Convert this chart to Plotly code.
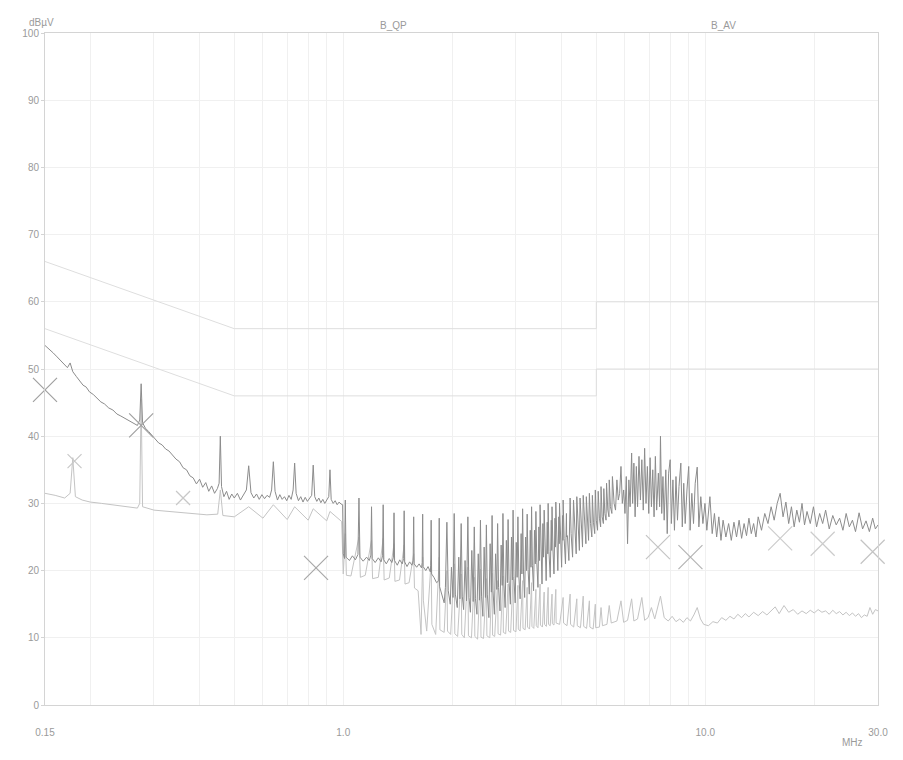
import plotly.graph_objects as go

# ---------------- data (MHz, dBµV) ----------------
qp_f = [0.150, 0.154, 0.158, 0.162, 0.166, 0.170, 0.173, 0.176, 0.179, 0.183, 0.187, 0.191, 0.195, 0.199,
        0.204, 0.209, 0.214, 0.219, 0.225, 0.231, 0.237, 0.243, 0.250, 0.257, 0.264, 0.270, 0.274, 0.2765,
        0.279, 0.284, 0.290, 0.296, 0.302, 0.309, 0.316, 0.323, 0.330, 0.337, 0.345, 0.353, 0.361, 0.369,
        0.377, 0.385, 0.393, 0.401, 0.409, 0.417, 0.425, 0.433, 0.441, 0.449, 0.454, 0.4575, 0.461, 0.468,
        0.476, 0.484, 0.492, 0.500, 0.510, 0.520, 0.530, 0.540, 0.548, 0.556, 0.566, 0.576, 0.586, 0.596,
        0.606, 0.616, 0.626, 0.634, 0.641, 0.648, 0.658, 0.668, 0.678, 0.688, 0.698, 0.708, 0.718, 0.727,
        0.734, 0.741, 0.752, 0.763, 0.774, 0.785, 0.796, 0.807, 0.818, 0.826, 0.834, 0.845, 0.856, 0.867,
        0.878, 0.889, 0.900, 0.912, 0.919, 0.926, 0.938, 0.950, 0.962, 0.974, 0.986, 0.996,
        1.000, 1.008, 1.013, 1.018, 1.040, 1.060, 1.080, 1.098, 1.105, 1.112, 1.135, 1.160, 1.180, 1.192,
        1.197, 1.202, 1.225, 1.250, 1.272, 1.284, 1.289, 1.294, 1.315, 1.340, 1.362, 1.376, 1.381, 1.386,
        1.410, 1.432, 1.455, 1.468, 1.473, 1.478, 1.500, 1.525, 1.548, 1.560, 1.565, 1.570, 1.595, 1.620,
        1.645, 1.652, 1.657, 1.662, 1.690, 1.715, 1.740, 1.744, 1.749, 1.754, 1.780, 1.810, 1.836, 1.841,
        1.846, 1.870, 1.900, 1.915, 1.933, 1.950, 1.975, 1.990, 2.010, 2.025, 2.040, 2.065, 2.085, 2.100,
        2.117, 2.132, 2.150, 2.170, 2.190, 2.209, 2.225, 2.245, 2.265, 2.285, 2.301, 2.318, 2.340, 2.360,
        2.378, 2.393, 2.410, 2.430, 2.450, 2.470, 2.485, 2.500, 2.525, 2.545, 2.565, 2.577, 2.592, 2.615,
        2.635, 2.655, 2.669, 2.685, 2.710, 2.730, 2.748, 2.761, 2.778, 2.800, 2.822, 2.840, 2.853, 2.870,
        2.895, 2.915, 2.932, 2.945, 2.962, 2.985, 3.005, 3.022, 3.037, 3.055, 3.080, 3.100, 3.115, 3.129,
        3.147, 3.170, 3.190, 3.208, 3.221, 3.240, 3.265, 3.285, 3.300, 3.313, 3.330, 3.355, 3.375, 3.392,
        3.405, 3.425, 3.450, 3.470, 3.485, 3.497, 3.515, 3.540, 3.560, 3.575, 3.589, 3.610, 3.635, 3.660,
        3.672, 3.681, 3.700, 3.730, 3.755, 3.765, 3.773, 3.795, 3.820, 3.845, 3.858, 3.865, 3.888, 3.915,
        3.940, 3.950, 3.957, 3.980, 4.010, 4.035, 4.043, 4.049, 4.075, 4.110, 4.135, 4.141, 4.160, 4.200,
        4.233, 4.260, 4.300, 4.325, 4.360, 4.400, 4.417, 4.450, 4.490, 4.509, 4.540, 4.580, 4.601, 4.640,
        4.680, 4.693, 4.730, 4.760, 4.785, 4.820, 4.860, 4.877, 4.910, 4.950, 4.969, 5.000, 5.040, 5.061,
        5.100, 5.140, 5.153, 5.190, 5.230, 5.245, 5.280, 5.320, 5.337, 5.380, 5.420, 5.429, 5.470, 5.520,
        5.540, 5.600, 5.650, 5.700, 5.750, 5.800, 5.850, 5.900, 5.950, 6.000, 6.050, 6.100, 6.150, 6.200,
        6.260, 6.300, 6.350, 6.400, 6.450, 6.500, 6.560, 6.620, 6.680, 6.740, 6.800, 6.860, 6.920, 6.980,
        7.040, 7.100, 7.160, 7.220, 7.280, 7.340, 7.420, 7.480, 7.520, 7.580, 7.640, 7.700, 7.780, 7.850,
        7.920, 8.000, 8.060, 8.140, 8.220, 8.300, 8.380, 8.460, 8.560, 8.640, 8.720, 8.800, 8.900, 9.000,
        9.080, 9.180, 9.280, 9.380, 9.500, 9.600, 9.720, 9.850, 9.980, 10.10, 10.30, 10.45, 10.60, 10.75,
        10.90, 11.05, 11.20, 11.40, 11.60, 11.80, 12.00, 12.20, 12.40, 12.60, 12.80, 13.00, 13.20, 13.40,
        13.60, 13.80, 14.00, 14.30, 14.60, 14.90, 15.20, 15.50, 15.80, 16.10, 16.40, 16.70, 17.00, 17.30,
        17.60, 17.90, 18.20, 18.50, 18.80, 19.10, 19.50, 19.90, 20.30, 20.70, 21.10, 21.50, 22.00, 22.50,
        23.00, 23.50, 24.00, 24.50, 25.00, 25.50, 26.00, 26.60, 27.20, 27.80, 28.40, 29.00, 29.50, 30.00]

qp_db = [53.5, 53.0, 52.4, 51.8, 51.2, 50.7, 50.2, 50.9, 49.6, 48.9, 48.3, 47.6, 47.3, 46.6,
         46.2, 45.6, 45.1, 44.8, 44.2, 43.9, 43.3, 43.0, 42.6, 42.2, 41.9, 41.6, 42.4, 47.8,
         42.0, 41.2, 40.7, 40.1, 39.6, 39.0, 38.7, 38.1, 37.8, 37.2, 36.6, 36.2, 35.3, 35.0,
         34.1, 33.8, 32.9, 33.6, 32.4, 33.1, 31.8, 32.6, 31.5, 32.2, 33.0, 40.0, 32.5, 31.0,
         31.8, 30.6, 31.4, 30.8, 31.5, 30.5, 31.2, 32.0, 35.6, 31.6, 30.8, 31.4, 30.6, 31.3,
         30.7, 31.2, 30.9, 32.0, 36.2, 31.8, 30.5, 31.3, 30.6, 31.0, 30.4, 31.2, 30.6, 32.0,
         36.0, 31.5, 30.4, 31.0, 30.2, 30.9, 30.3, 30.8, 31.2, 35.7, 31.0, 30.3, 30.8, 30.1,
         30.6, 30.0, 30.5, 31.0, 35.0, 30.6, 30.0, 30.4, 29.8, 30.2, 29.9, 29.8,
         22.5, 21.8, 30.5, 22.0, 21.5, 22.2, 21.6, 22.4, 30.8, 22.0, 21.4, 22.0, 21.5, 22.3,
         29.5, 21.8, 21.2, 21.9, 21.3, 22.2, 29.8, 21.6, 21.0, 21.8, 21.2, 22.0, 28.6, 21.5,
         20.8, 21.6, 21.0, 21.8, 28.9, 21.3, 20.6, 21.3, 20.8, 21.5, 28.0, 21.0, 20.5, 21.0,
         20.4, 21.2, 28.4, 20.6, 20.0, 20.6, 19.8, 20.8, 27.5, 19.5, 19.0, 18.2, 18.5, 27.8,
         17.6, 16.5, 15.2, 17.5, 27.2, 17.0, 15.0, 20.5, 16.0, 28.5, 16.5, 14.5, 22.0, 15.8,
         27.0, 16.2, 14.2, 21.5, 15.5, 28.0, 16.0, 13.8, 23.0, 15.4, 26.5, 15.8, 13.5, 22.5,
         15.6, 27.5, 16.2, 13.2, 23.5, 16.0, 26.8, 16.5, 13.0, 24.0, 16.8, 28.2, 17.0, 13.5,
         22.5, 17.2, 27.0, 17.5, 14.0, 23.8, 17.8, 28.5, 18.0, 14.5, 24.5, 18.2, 27.6, 18.5,
         15.0, 25.0, 18.6, 29.0, 18.8, 15.2, 24.2, 19.0, 28.0, 19.2, 15.8, 25.5, 19.5, 29.2,
         19.8, 16.0, 25.0, 20.0, 28.4, 20.2, 16.5, 26.0, 20.5, 29.5, 20.8, 17.0, 26.0, 21.0,
         28.8, 21.2, 17.5, 26.5, 21.5, 29.8, 21.8, 18.0, 27.0, 22.0, 29.0, 22.2, 18.5, 27.2,
         22.5, 30.0, 22.8, 19.0, 27.5, 23.0, 29.5, 23.2, 19.5, 27.8, 23.5, 30.2, 23.8, 20.0,
         28.0, 24.0, 30.0, 24.2, 20.5, 28.2, 24.5, 30.5, 24.8, 21.0, 28.5, 25.0, 25.2, 21.5,
         30.8, 25.5, 22.0, 30.5, 25.8, 22.5, 31.0, 26.0, 23.0, 30.8, 26.2, 23.5, 31.2, 26.5,
         24.0, 31.0, 26.8, 24.5, 31.5, 27.0, 25.0, 31.2, 27.2, 25.5, 32.0, 27.5, 26.0, 31.8,
         27.8, 26.5, 32.5, 28.0, 27.0, 32.2, 28.5, 27.5, 33.0, 29.0, 28.0, 33.5, 29.5, 28.5,
         34.0, 30.0, 29.0, 33.5, 30.5, 31.5, 35.5, 30.0, 32.0, 28.5, 34.0, 24.0, 33.5, 29.5,
         37.5, 30.0, 36.0, 28.0, 35.5, 29.5, 37.0, 30.5, 36.5, 29.0, 38.2, 30.0, 35.5, 28.5,
         36.8, 29.5, 35.0, 28.0, 37.0, 29.0, 34.5, 29.5, 40.0, 28.5, 34.0, 27.5, 35.0, 25.5,
         34.5, 36.5, 27.0, 33.5, 26.0, 34.0, 27.5, 32.5, 36.0, 26.5, 33.0, 27.0, 32.0, 35.5,
         26.0, 31.5, 27.0, 33.0, 35.4, 26.5, 31.0, 27.0, 30.0, 26.0, 31.0, 25.5, 28.5, 25.0,
         28.0, 24.5, 27.5, 25.0, 27.0, 24.5, 27.2, 25.0, 27.5, 24.8, 27.0, 25.2, 27.8, 25.5,
         27.0, 25.0, 28.0, 26.0, 28.5, 27.0, 29.5, 27.5, 30.0, 31.5, 28.0, 30.2, 27.0, 29.5,
         26.5, 29.0, 27.2, 30.0, 26.8, 28.8, 27.0, 29.5, 26.5, 28.5, 27.0, 29.0, 26.2, 28.2,
         26.8, 27.8, 26.0, 28.5, 26.5, 27.5, 25.8, 28.6, 26.2, 27.4, 25.8, 27.8, 26.2, 26.8]

av_f = [0.150, 0.160, 0.170, 0.176, 0.179, 0.182, 0.190, 0.200, 0.215, 0.230, 0.250, 0.270, 0.274, 0.2765,
        0.279, 0.300, 0.330, 0.360, 0.390, 0.420, 0.450, 0.4575, 0.465, 0.500, 0.548, 0.600, 0.641, 0.700,
        0.734, 0.800, 0.826, 0.900, 0.919, 0.990,
        1.000, 1.013, 1.020, 1.050, 1.105, 1.115, 1.150, 1.197, 1.205, 1.250, 1.289, 1.297, 1.340, 1.381,
        1.389, 1.430, 1.473, 1.481, 1.520, 1.565, 1.573, 1.610, 1.640, 1.657, 1.665, 1.700, 1.749, 1.757,
        1.800, 1.841, 1.849, 1.900, 1.933, 1.941, 1.980, 2.025, 2.033, 2.070, 2.117, 2.125, 2.160, 2.209,
        2.217, 2.260, 2.301, 2.309, 2.350, 2.393, 2.401, 2.440, 2.485, 2.493, 2.540, 2.577, 2.585, 2.620,
        2.669, 2.677, 2.720, 2.761, 2.769, 2.810, 2.853, 2.861, 2.900, 2.945, 2.953, 3.000, 3.037, 3.045,
        3.080, 3.129, 3.137, 3.180, 3.221, 3.229, 3.270, 3.313, 3.321, 3.360, 3.405, 3.413, 3.450, 3.497,
        3.505, 3.550, 3.589, 3.597, 3.640, 3.681, 3.689, 3.730, 3.773, 3.781, 3.820, 3.865, 3.873, 3.960,
        4.049, 4.060, 4.150, 4.233, 4.245, 4.330, 4.417, 4.430, 4.520, 4.601, 4.615, 4.700, 4.785, 4.800,
        4.900, 4.969, 4.980, 5.100, 5.153, 5.200, 5.350, 5.429, 5.500, 5.700, 5.850, 5.950, 6.100, 6.260,
        6.350, 6.500, 6.680, 6.800, 6.950, 7.100, 7.250, 7.520, 7.700, 7.900, 8.100, 8.300, 8.500, 8.700,
        8.900, 9.100, 9.300, 9.500, 9.700, 9.900, 10.20, 10.50, 10.80, 11.10, 11.40, 11.70, 12.00, 12.30,
        12.60, 12.90, 13.20, 13.60, 14.00, 14.40, 14.80, 15.20, 15.60, 16.00, 16.50, 17.00, 17.50, 18.00,
        18.50, 19.00, 19.50, 20.00, 20.50, 21.00, 21.50, 22.00, 22.50, 23.00, 23.50, 24.00, 24.50, 25.00,
        25.50, 26.00, 26.50, 27.00, 27.50, 28.00, 28.50, 29.00, 29.50, 30.00]

av_db = [31.5, 31.2, 30.8, 31.5, 36.8, 31.0, 30.5, 30.2, 30.0, 29.8, 29.5, 29.3, 30.0, 45.5,
         29.5, 29.0, 28.8, 28.6, 28.5, 28.3, 28.4, 32.0, 28.2, 28.0, 29.5, 27.8, 29.8, 27.6,
         29.5, 27.5, 29.2, 27.4, 28.8, 27.3,
         19.5, 25.5, 19.3, 19.2, 25.0, 19.0, 19.3, 24.5, 18.8, 19.0, 24.8, 18.6, 18.9, 24.0,
         18.4, 18.6, 23.8, 18.0, 18.2, 22.5, 17.4, 17.0, 10.5, 22.0, 15.5, 11.0, 21.5, 12.0,
         10.5, 22.0, 11.2, 10.8, 20.0, 11.0, 10.5, 21.0, 10.6, 10.2, 19.5, 10.5, 10.0, 20.5,
         10.3, 10.0, 19.0, 10.2, 9.8, 20.2, 10.1, 9.9, 18.8, 10.3, 10.0, 19.6, 10.4, 10.2,
         18.5, 10.6, 10.4, 19.2, 10.8, 10.6, 18.0, 11.0, 10.8, 19.0, 11.1, 10.9, 17.8, 11.3,
         11.0, 18.5, 11.4, 11.2, 17.5, 11.6, 11.3, 18.2, 11.7, 11.4, 17.2, 11.8, 11.5, 18.0,
         11.9, 11.6, 16.8, 12.0, 11.7, 17.5, 12.0, 11.8, 16.5, 12.1, 11.9, 17.2, 12.2, 12.0,
         16.0, 12.2, 11.8, 16.5, 12.0, 11.6, 15.8, 11.8, 11.5, 16.2, 11.7, 11.4, 15.5, 11.6,
         11.3, 15.0, 11.5, 11.6, 14.5, 11.8, 12.0, 14.8, 12.2, 12.5, 15.5, 12.3, 12.6, 15.8,
         12.5, 12.8, 16.0, 12.6, 13.0, 14.5, 12.8, 16.2, 13.0, 12.5, 13.2, 12.4, 12.8, 12.3,
         13.0, 12.5, 13.4, 14.5, 12.8, 12.0, 11.8, 12.4, 12.2, 13.0, 12.6, 13.2, 12.8, 13.5,
         13.0, 13.6, 13.1, 13.8, 13.3, 13.9, 13.4, 14.0, 14.6, 13.6, 14.8, 13.8, 14.2, 13.5,
         14.0, 13.6, 14.1, 13.7, 14.2, 13.8, 14.0, 13.5, 14.1, 13.6, 13.9, 13.4, 13.8, 13.3,
         13.7, 13.2, 13.6, 13.0, 13.4, 13.2, 14.5, 13.5, 14.2, 14.0]

# limit lines (class B)
qp_lim_f = [0.15, 0.5, 5.0, 5.0, 30.0]
qp_lim_db = [66, 56, 56, 60, 60]
av_lim_f = [0.15, 0.5, 5.0, 5.0, 30.0]
av_lim_db = [56, 46, 46, 50, 50]

# final measurement points
qp_mark_f = [0.150, 0.2765, 0.841, 7.4, 9.1, 16.1, 21.1, 29.0]
qp_mark_db = [46.9, 41.6, 20.4, 23.5, 22.0, 24.8, 24.0, 22.8]
qp_mark_col = ["#a0a0a0", "#a0a0a0", "#a8a8a8", "#c4c4c4", "#b4b4b4", "#cccccc", "#cccccc", "#c4c4c4"]
av_mark_f = [0.181, 0.361]
av_mark_db = [36.3, 30.8]

grid_f = [0.15, 0.2, 0.3, 0.4, 0.5, 0.6, 0.7, 0.8, 0.9, 1.0, 2, 3, 4, 5, 6, 7, 8, 9, 10, 20, 30]
grid_text = ["0.15", "", "", "", "", "", "", "", "", "1.0", "", "", "", "", "", "", "", "", "10.0", "", "30.0"]
y_ticks = [0, 10, 20, 30, 40, 50, 60, 70, 80, 90, 100]

TXT = "#9a9a9a"
fig = go.Figure()
fig.add_trace(go.Scatter(x=qp_lim_f, y=qp_lim_db, mode="lines",
                         line=dict(color="#dedede", width=1), hoverinfo="skip"))
fig.add_trace(go.Scatter(x=av_lim_f, y=av_lim_db, mode="lines",
                         line=dict(color="#dedede", width=1), hoverinfo="skip"))
fig.add_trace(go.Scatter(x=av_f, y=av_db, mode="lines",
                         line=dict(color="#c4c4c4", width=1)))
fig.add_trace(go.Scatter(x=qp_f, y=qp_db, mode="lines",
                         line=dict(color="#8c8c8c", width=1)))
fig.add_trace(go.Scatter(x=qp_mark_f, y=qp_mark_db, mode="markers", cliponaxis=False,
                         marker=dict(symbol="x-thin", size=24, line=dict(color=qp_mark_col, width=1.2))))
fig.add_trace(go.Scatter(x=av_mark_f, y=av_mark_db, mode="markers", cliponaxis=False,
                         marker=dict(symbol="x-thin", size=14, line=dict(color="#c8c8c8", width=1.2))))

fig.update_layout(
    width=903, height=760, showlegend=False,
    margin=dict(l=45, r=25, t=33, b=55),
    paper_bgcolor="white", plot_bgcolor="white",
    font=dict(family="Liberation Sans, Arial, sans-serif", size=10, color=TXT),
    xaxis=dict(type="log", range=[-0.823909, 1.477121], tickvals=grid_f, ticktext=grid_text,
               showgrid=True, gridcolor="#f0f0f0", gridwidth=1, zeroline=False,
               showline=True, linecolor="#d4d4d4", mirror=True, ticks="",
               ticklabelstandoff=18, tickfont=dict(size=10, color=TXT)),
    yaxis=dict(range=[0, 100], tickvals=y_ticks, showgrid=True, gridcolor="#f0f0f0",
               zeroline=False, showline=True, linecolor="#d4d4d4", mirror=True,
               ticks="outside", ticklen=3, tickcolor="#d4d4d4",
               tickfont=dict(size=10, color=TXT)),
    annotations=[
        dict(text="dBµV", xref="paper", yref="paper", x=-0.022, y=1.027, showarrow=False,
             font=dict(size=10, color=TXT)),
        dict(text="B_QP", xref="paper", yref="paper", x=0.418, y=1.022, showarrow=False,
             font=dict(size=10, color=TXT)),
        dict(text="B_AV", xref="paper", yref="paper", x=0.832, y=1.022, showarrow=False,
             font=dict(size=10, color=TXT)),
        dict(text="MHz", xref="paper", yref="paper", x=0.984, y=-0.067, showarrow=False,
             font=dict(size=10, color=TXT)),
    ],
)

fig.write_html("out.html")
